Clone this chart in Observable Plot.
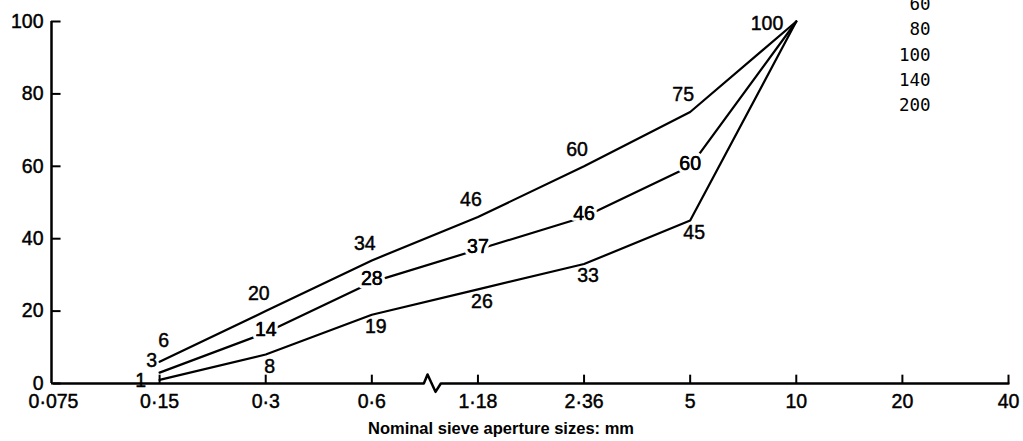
<!DOCTYPE html>
<html><head><meta charset="utf-8">
<script src="https://cdn.jsdelivr.net/npm/d3@7"></script>
<script src="https://cdn.jsdelivr.net/npm/@observablehq/plot@0.6"></script>
<style>
body{margin:0;background:#fff;}
#chart{width:1023px;height:441px;}
#chart g[aria-label="x-axis tick label"], #chart g[aria-label="y-axis tick label"]{stroke:black;stroke-width:0.45px;}
</style></head><body><div id="chart"></div>
<script>
// ---- data ----
const sieveLabels = ["0·075","0·15","0·3","0·6","1·18","2·36","5","10","20","40"];
const curveSieves = ["0·15","0·3","0·6","1·18","2·36","5","10"];
const upperPassing  = [6, 20, 34, 46, 60, 75, 100];
const middlePassing = [3, 14, 28, 37, 46, 60, 100];
const lowerPassing  = [1, 8, 19, 26, 33, 45, 100];
const yTicks = [0, 20, 40, 60, 80, 100];
const sieveNumbers = ["60", "80", "100", "140", "200"];
const axisTitle = "Nominal sieve aperture sizes: mm";

// ---- derived tables ----
const idx = s => sieveLabels.indexOf(s);
const makeSeries = (name, values) =>
  curveSieves.map((s, k) => ({series: name, i: idx(s), value: values[k]}));
const upper = makeSeries("upper", upperPassing);
const middle = makeSeries("middle", middlePassing);
const lower = makeSeries("lower", lowerPassing);
const allIdx = sieveLabels.map((s, i) => i);
const last = sieveLabels.length - 1;

// axis line with break between 0·6 and 1·18
const b = (idx("0·6") + idx("1·18")) / 2;
const axisPath = [
  {x: 0, y: 0}, {x: b - 0.01, y: 0}, {x: b + 0.025, y: 2.5},
  {x: b + 0.10, y: -2.3}, {x: b + 0.15, y: 0}, {x: last, y: 0}
];

const font = "Liberation Sans, Arial, Helvetica, sans-serif";
const lbl = d => String(d.value);
const fs = 19.5;
const ink = {fill: "black", stroke: "black", strokeWidth: 0.45};

const chart = Plot.plot({
  width: 1023,
  height: 441,
  marginLeft: 53,
  marginRight: 15,
  marginTop: 21,
  marginBottom: 58,
  style: {fontFamily: font, fontSize: fs + "px", color: "black", background: "white"},
  x: {type: "linear", domain: [0, last]},
  y: {domain: [0, 100]},
  marks: [
    // axes
    Plot.ruleX([0], {y1: 0, y2: 100, strokeWidth: 2.5, dx: -2}),
    Plot.line(axisPath, {x: "x", y: "y", strokeWidth: 2.5}),
    Plot.ruleX(allIdx.slice(1), {x: d => d, y1: 0, y2: 2.3, stroke: "black", strokeWidth: 2}),
    Plot.ruleY(yTicks, {y: d => d, x1: 0, x2: 0.09, stroke: "black", strokeWidth: 2, dx: -2}),
    Plot.axisX({ticks: allIdx, tickSize: 0, tickPadding: 11, tickFormat: i => sieveLabels[i], fontSize: fs, label: null}),
    Plot.axisY({ticks: yTicks, tickSize: 0, tickPadding: 10, fontSize: fs, label: null}),
    // curves
    Plot.line([...upper, ...middle, ...lower], {x: "i", y: "value", z: "series", stroke: "black", strokeWidth: 2.2}),
    // upper labels
    Plot.text(upper.slice(0, 1), {x: "i", y: "value", text: lbl, dx: 4, dy: -21, fontSize: fs, ...ink}),
    Plot.text(upper.slice(1, -1), {x: "i", y: "value", text: lbl, dx: -7, dy: -17, fontSize: fs, ...ink}),
    Plot.text(upper.slice(-1), {x: "i", y: "value", text: lbl, dx: -13, dy: 2, textAnchor: "end", fontSize: fs, ...ink}),
    // middle labels (sit on the line)
    Plot.text(middle.slice(0, 1), {x: "i", y: "value", text: lbl, dx: -8, dy: -12, fontSize: fs, ...ink}),
    Plot.text(middle.slice(1, -1), {x: "i", y: "value", text: lbl, dx: 0, dy: -3, fontSize: fs, stroke: "white", strokeWidth: 7, fill: "black"}),
    Plot.text(middle.slice(1, -1), {x: "i", y: "value", text: lbl, dx: 0, dy: -3, fontSize: fs, ...ink}),
    // lower labels
    Plot.text(lower.slice(0, 1), {x: "i", y: "value", text: lbl, dx: -19, dy: 1, fontSize: fs, ...ink}),
    Plot.text(lower.slice(1, -1), {x: "i", y: "value", text: lbl, dx: 4, dy: 12, fontSize: fs, ...ink}),
    // top-right sieve numbers
    Plot.text([sieveNumbers.join("\n")], {frameAnchor: "top-right", dx: -78, dy: 31, textAnchor: "end",
      lineAnchor: "middle", lineHeight: 1.45, fontFamily: "DejaVu Sans Mono", fontSize: 17.5}),
    // axis title
    Plot.text([axisTitle], {frameAnchor: "bottom", dx: -30, dy: 50, fontWeight: "bold", fontSize: 16.5})
  ]
});
document.getElementById("chart").appendChild(chart);
</script>
</body></html>
